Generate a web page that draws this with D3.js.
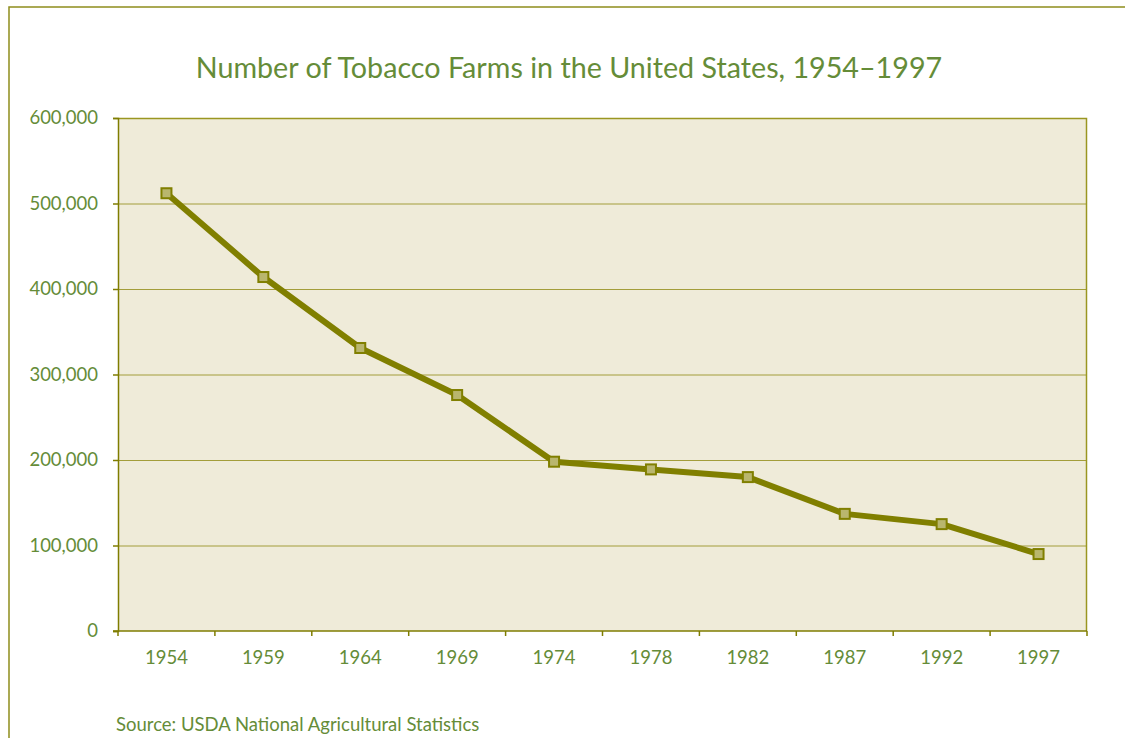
<!DOCTYPE html>
<html>
<head>
<meta charset="utf-8">
<script src="https://cdn.jsdelivr.net/npm/d3@7"></script>
<style>
  html, body { margin: 0; padding: 0; background: #ffffff; }
  svg { display: block; }
  text { font-family: "Lato", "Open Sans", sans-serif; }
</style>
</head>
<body>
<script>
// Census years and number of tobacco farms
const years = ["1954", "1959", "1964", "1969", "1974", "1978", "1982", "1987", "1992", "1997"];
const farms = [512000, 414000, 331000, 276000, 198000, 189000, 180000, 137000, 125000, 90000];
const yTicks = [0, 100000, 200000, 300000, 400000, 500000, 600000];
const titleText = "Number of Tobacco Farms in the United States, 1954\u20131997";
const sourceText = "Source: USDA National Agricultural Statistics";

const W = 1125, H = 738;
const plot = { left: 118, right: 1087, top: 118, bottom: 631 };
const olive = "#7f7d00";
const gridColor = "#a39d3a";
const textColor = "#658c38";

const svg = d3.select("body").append("svg")
  .attr("width", W).attr("height", H);

// outer frame
svg.append("rect")
  .attr("x", 9).attr("y", 7)
  .attr("width", W + 20).attr("height", H + 20)
  .attr("fill", "none").attr("stroke", "#8f8d1c").attr("stroke-width", 1.5);

const x = d3.scaleBand().domain(years).range([plot.left, plot.right]);
const y = d3.scaleLinear().domain([0, 600000]).range([plot.bottom, plot.top]);

// plot background
svg.append("rect")
  .attr("x", plot.left).attr("y", plot.top)
  .attr("width", plot.right - plot.left).attr("height", plot.bottom - plot.top)
  .attr("fill", "#efebd9");

// horizontal gridlines
svg.append("g")
  .selectAll("line")
  .data(yTicks.filter(d => d > 0 && d < 600000))
  .join("line")
  .attr("x1", plot.left).attr("x2", plot.right)
  .attr("y1", d => y(d) + 0.5).attr("y2", d => y(d) + 0.5)
  .attr("stroke", gridColor).attr("stroke-width", 1);

// plot frame: top and right edges
svg.append("path")
  .attr("d", `M${plot.left},${plot.top + 0.5}H${plot.right - 0.5}V${plot.bottom}`)
  .attr("fill", "none").attr("stroke", "#9a9621").attr("stroke-width", 1.5);

// y axis
const yAxis = svg.append("g")
  .attr("transform", `translate(${plot.left},0)`)
  .call(d3.axisLeft(y).tickValues(yTicks).tickSize(5).tickPadding(15)
    .tickFormat(d => d === 0 ? "0" : d3.format(",")(d)));
yAxis.select(".domain").attr("stroke", olive).attr("stroke-width", 1.5);
yAxis.selectAll(".tick line").attr("stroke", olive).attr("stroke-width", 1.5);
yAxis.selectAll(".tick text")
  .attr("fill", textColor).attr("font-size", 18.5)
  .style("font-family", "Lato, sans-serif");

// x axis with ticks on band boundaries
const xAxisG = svg.append("g").attr("transform", `translate(0,${plot.bottom})`);
xAxisG.append("line")
  .attr("x1", plot.left - 5).attr("x2", plot.right)
  .attr("stroke", olive).attr("stroke-width", 1.5);
const boundaries = years.map(d => x(d)).concat([x(years[years.length - 1]) + x.bandwidth()]);
xAxisG.selectAll("line.tk")
  .data(boundaries)
  .join("line").attr("class", "tk")
  .attr("x1", d => d).attr("x2", d => d)
  .attr("y1", 0).attr("y2", 5)
  .attr("stroke", olive).attr("stroke-width", 1.5);
xAxisG.selectAll("text")
  .data(years)
  .join("text")
  .attr("x", d => x(d) + x.bandwidth() / 2)
  .attr("y", 33)
  .attr("text-anchor", "middle")
  .attr("fill", textColor).attr("font-size", 18.5)
  .text(d => d);

// data line
const line = d3.line()
  .x((d, i) => x(years[i]) + x.bandwidth() / 2)
  .y(d => y(d));
svg.append("path")
  .datum(farms)
  .attr("d", line)
  .attr("fill", "none")
  .attr("stroke", "#807f00")
  .attr("stroke-width", 6)
  .attr("stroke-linejoin", "round");

// square markers
svg.append("g")
  .selectAll("rect")
  .data(farms)
  .join("rect")
  .attr("x", (d, i) => x(years[i]) + x.bandwidth() / 2 - 5)
  .attr("y", d => y(d) - 5)
  .attr("width", 10).attr("height", 10)
  .attr("fill", "#b9b66e")
  .attr("stroke", "#807f00").attr("stroke-width", 2);

// title
svg.append("text")
  .attr("x", 569).attr("y", 78)
  .attr("text-anchor", "middle")
  .attr("fill", textColor)
  .attr("font-size", 28.7)
  .text(titleText);

// source note
svg.append("text")
  .attr("x", 116).attr("y", 731)
  .attr("fill", textColor)
  .attr("font-size", 18.5)
  .text(sourceText);
</script>
</body>
</html>
